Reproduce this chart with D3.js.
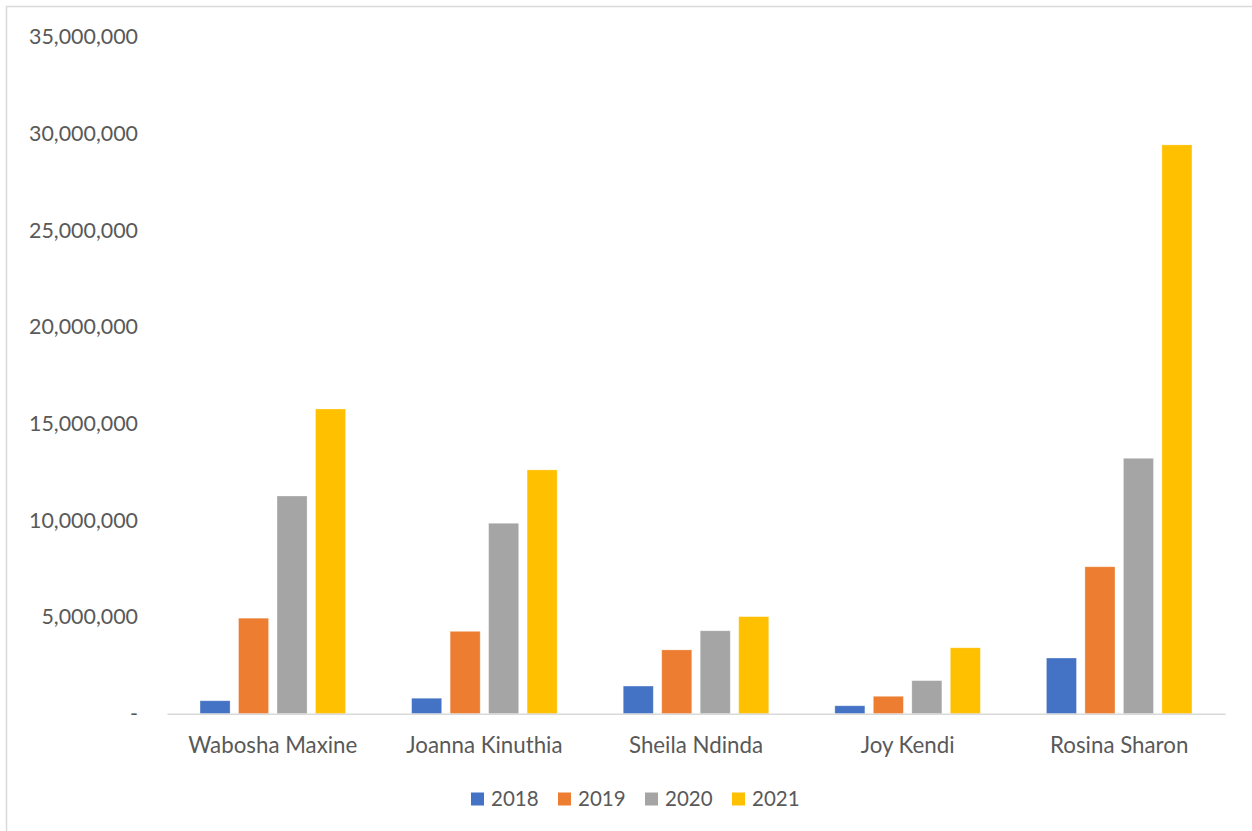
<!DOCTYPE html>
<html>
<head>
<meta charset="utf-8">
<script src="https://cdn.jsdelivr.net/npm/d3@7"></script>
<style>
  body { margin: 0; background: #fff; }
  text { font-family: Lato, "Open Sans", sans-serif; fill: #595959; }
</style>
</head>
<body>
<div id="chart"></div>
<script>
// Chart data
var names = ["Wabosha Maxine", "Joanna Kinuthia", "Sheila Ndinda", "Joy Kendi", "Rosina Sharon"];
var years = ["2018", "2019", "2020", "2021"];
var values2018 = [670000, 800000, 1430000, 410000, 2880000];
var values2019 = [4940000, 4260000, 3300000, 900000, 7600000];
var values2020 = [11260000, 9850000, 4290000, 1710000, 13210000];
var values2021 = [15760000, 12610000, 5020000, 3410000, 29420000];
var yTicks = [0, 5000000, 10000000, 15000000, 20000000, 25000000, 30000000, 35000000];
var colors = ["#4472C4", "#ED7D31", "#A5A5A5", "#FFC000"];

var series = [values2018, values2019, values2020, values2021];

var svgWidth = 1252;
var svgHeight = 831;

var svg = d3.select("#chart")
    .append("svg")
    .attr("width", svgWidth)
    .attr("height", svgHeight);

// Chart area border (only top and left edges are visible in the picture)
svg.append("rect")
    .attr("x", 6.5)
    .attr("y", 6.5)
    .attr("width", 1260)
    .attr("height", 840)
    .attr("fill", "none")
    .attr("stroke", "#D9D9D9")
    .attr("stroke-width", 1.5);

// Scales
var x0 = d3.scaleBand()
    .domain(names)
    .range([167, 1225]);

var x1 = d3.scaleBand()
    .domain(years)
    .range([0, 145.5])
    .paddingInner(0.22);

var y = d3.scaleLinear()
    .domain([0, 35000000])
    .range([713.7, 37]);

// Y axis labels
var yAxis = d3.axisLeft(y)
    .tickValues(yTicks)
    .tickSize(0)
    .tickPadding(0)
    .tickFormat(d => d === 0 ? "-" : d3.format(",")(d));

var yAxisGroup = svg.append("g")
    .attr("transform", "translate(138, 0)")
    .call(yAxis);
yAxisGroup.select(".domain").remove();
yAxisGroup.selectAll("text")
    .attr("font-size", 21.4)
    .style("font-family", "Lato, 'Open Sans', sans-serif")
    .attr("fill", "#595959");

// Bars
var groups = svg.selectAll(".group")
    .data(names)
    .enter()
    .append("g")
    .attr("class", "group")
    .attr("transform", d => `translate(${x0(d) + x0.bandwidth() / 2 - 72.75}, 0)`);

groups.selectAll("rect")
    .data((d, i) => years.map((yr, j) => ({ year: yr, value: series[j][i], color: colors[j] })))
    .enter()
    .append("rect")
    .attr("x", d => x1(d.year))
    .attr("width", x1.bandwidth())
    .attr("y", d => y(d.value))
    .attr("height", d => y(0) - y(d.value))
    .attr("fill", d => d.color)
    .attr("stroke", "#fff")
    .attr("stroke-opacity", 0.35)
    .attr("stroke-width", 0.8);

// X axis
var xAxis = d3.axisBottom(x0)
    .tickSize(0)
    .tickPadding(0);

var xAxisGroup = svg.append("g")
    .attr("transform", `translate(0, ${y(0)})`)
    .call(xAxis);
xAxisGroup.select(".domain")
    .attr("stroke", "#D9D9D9")
    .attr("stroke-width", 1.5);
xAxisGroup.selectAll("text")
    .attr("y", 32)
    .attr("dy", "0.35em")
    .attr("font-size", 22.3)
    .style("font-family", "Lato, 'Open Sans', sans-serif")
    .attr("fill", "#595959");

// Legend
var legend = svg.append("g")
    .attr("transform", "translate(471, 799)");

var legendItems = legend.selectAll("g")
    .data(years)
    .enter()
    .append("g")
    .attr("transform", (d, i) => `translate(${i * 87}, 0)`);

legendItems.append("rect")
    .attr("x", 0)
    .attr("y", -6.5)
    .attr("width", 13)
    .attr("height", 13)
    .attr("fill", (d, i) => colors[i]);

legendItems.append("text")
    .attr("x", 20)
    .attr("y", 0)
    .attr("dy", "0.35em")
    .attr("font-size", 20.5)
    .text(d => d);
</script>
</body>
</html>
